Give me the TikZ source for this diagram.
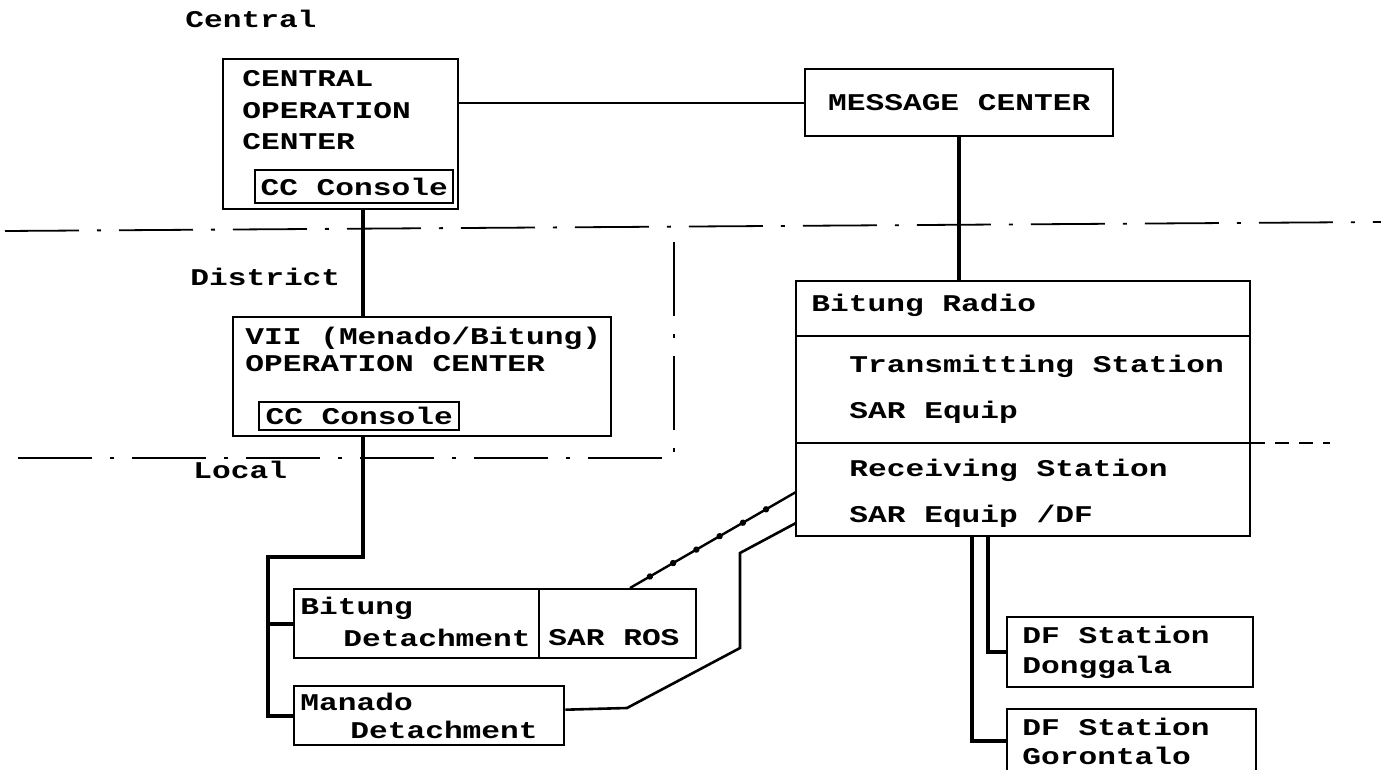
\documentclass[tikz,border=0pt]{standalone}
\usepackage{fontspec}
\newfontfamily\printfont{Liberation Mono}[FakeStretch=1.3]
\usepackage{tikz}
\usetikzlibrary{decorations.markings}

\begin{document}
\begin{tikzpicture}[
  x=0.5pt, y=-0.5pt,
  every node/.style={font=\printfont\bfseries\fontsize{12}{15}\selectfont},
  box/.style={draw, line width=1.2pt, inner sep=0pt, anchor=north west},
  txt/.style={anchor=west, inner sep=0pt},
  trunkline/.style={line width=1.8pt},
  wire/.style={line width=1pt},
  tier/.style={line width=0.9pt, dash pattern=on 37pt off 9pt on 2pt off 9pt},
  radiolink/.style={line width=1.2pt, postaction={decorate},
    decoration={markings, mark=between positions 0.12 and 0.9 step 0.14 with {\fill (0,0) circle (1.6pt);}}}
]
\useasboundingbox (0,0) rectangle (1381,770);
\clip (0,0) rectangle (1381,770);

% level labels
\node[txt] (lcentral) at (185,19) {Central};
\node[txt] (ldistrict) at (190,277) {District};
\node[txt] (llocal) at (193,470) {Local};

% tier boundaries
\draw[tier] (5,231) -- (1381,222);
\draw[tier] (18,458) -- (674,458) -- (674,238);
\draw[line width=0.9pt, dash pattern=on 7pt off 5pt] (1251,443) -- (1330,443);

% central
\node[box, minimum width=117.5pt, minimum height=75pt] (coc) at (222,58) {};
\node[txt] (coc1) at (242,79) {CENTRAL};
\node[txt] (coc2) at (242,111) {OPERATION};
\node[txt] (coc3) at (242,142) {CENTER};
\node[box, minimum width=99pt, minimum height=16.5pt] (coccon) at (254,169) {CC Console};

\node[box, minimum width=154pt, minimum height=33.5pt] (msg) at (804,68) {MESSAGE CENTER};

% district
\node[box, minimum width=189pt, minimum height=59.5pt] (vii) at (232,316) {};
\node[txt] (vii1) at (245,338) {VII (Menado/Bitung)};
\node[txt] (vii2) at (245,364) {OPERATION CENTER};
\node[box, minimum width=100pt, minimum height=14pt] (viicon) at (258,401) {CC Console};

% bitung radio
\node[box, minimum width=227pt, minimum height=127.5pt] (rad) at (795,280) {};
\draw[line width=1pt] (rad.west |- 0,336) -- (rad.east |- 0,336);
\draw[line width=1pt] (rad.west |- 0,443) -- (rad.east |- 0,443);
\node[txt] (rad1) at (811,305) {Bitung Radio};
\node[txt] (rad2) at (849,366) {Transmitting Station};
\node[txt] (rad3) at (849,412) {SAR Equip};
\node[txt] (rad4) at (849,470) {Receiving Station};
\node[txt] (rad5) at (849,516) {SAR Equip /DF};

% local
\node[box, minimum width=122.5pt, minimum height=34.5pt] (bdet) at (293,588) {};
\node[txt] (bdet1) at (300,608) {Bitung};
\node[txt] (bdet2) at (343,638) {Detachment};
\node[box, minimum width=78.5pt, minimum height=34.5pt] (sarros) at (538,588) {};
\node[txt] (sarros1) at (548,638) {SAR ROS};
\node[box, minimum width=135pt, minimum height=29.5pt] (mdet) at (293,685) {};
\node[txt] (mdet1) at (300,702) {Manado};
\node[txt] (mdet2) at (350,730) {Detachment};

\node[box, minimum width=123pt, minimum height=35pt] (dfd) at (1006,616) {};
\node[txt] (dfd1) at (1022,635) {DF Station};
\node[txt] (dfd2) at (1022,667) {Donggala};
\node[box, minimum width=124.5pt, minimum height=32pt] (dfg) at (1006,708) {};
\node[txt] (dfg1) at (1022,727) {DF Station};
\node[txt] (dfg2) at (1022,756) {Gorontalo};

% connectors
\coordinate (trunk) at (363,0);
\coordinate (spine) at (268,0);
\coordinate (df1) at (972,0);
\coordinate (df2) at (988,0);
\draw[wire] (msg.west -| coc.east) -- (msg.west);
\draw[trunkline] (msg.south) -- (msg.south |- rad.north);
\draw[trunkline] (trunk |- coc.south) -- (trunk |- vii.north);
\draw[trunkline] (trunk |- vii.south) -- (trunk |- 0,557) -- (spine |- 0,557)
  -- (spine |- mdet.west) -- (mdet.west);
\draw[trunkline] (spine |- bdet.west) -- (bdet.west);
\coordinate (rosup) at (630,588);
\coordinate (radin1) at (796,492);
\draw[radiolink] (rosup) -- (radin1);
\coordinate (radin2) at (796,523);
\draw[line width=1.3pt] ([yshift=3pt]mdet.east) -- (627,708) -- (740,648) -- (740,553) -- (radin2);
\draw[trunkline] (df1 |- rad.south) -- (df1 |- dfg.west) -- (dfg.west);
\draw[trunkline] (df2 |- rad.south) -- (df2 |- dfd.west) -- (dfd.west);
\end{tikzpicture}
\end{document}
